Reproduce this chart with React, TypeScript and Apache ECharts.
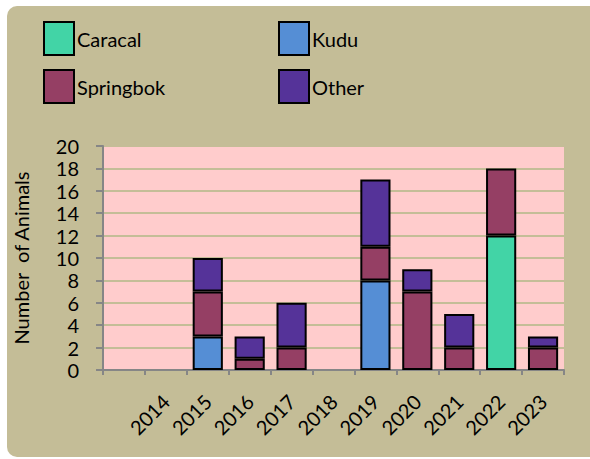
import React, { useEffect, useRef } from "react";
import * as echarts from "echarts";

const categories = ["", "2014", "2015", "2016", "2017", "2018", "2019", "2020", "2021", "2022", "2023"];
const caracal = [0, 0, 0, 0, 0, 0, 0, 0, 0, 12, 0];
const kudu = [0, 0, 3, 0, 0, 0, 8, 0, 0, 0, 0];
const springbok = [0, 0, 4, 1, 2, 0, 3, 7, 2, 6, 2];
const other = [0, 0, 3, 2, 4, 0, 6, 2, 3, 0, 1];
const seriesNames = ["Caracal", "Kudu", "Springbok", "Other"];
const seriesColors = ["#42D4A6", "#558ED5", "#953F64", "#553399"];

const FONT = "Lato, 'Open Sans', sans-serif";

export default function App() {
  const ref = useRef<HTMLDivElement>(null);
  useEffect(() => {
    if (!ref.current) return;
    const chart = echarts.init(ref.current, undefined, { renderer: "svg" });
    const values = [caracal, kudu, springbok, other];
    const legendPos = [
      { left: 43, top: 21 },
      { left: 278, top: 21 },
      { left: 43, top: 69 },
      { left: 278, top: 69 },
    ];
    chart.setOption({
      animation: false,
      textStyle: { fontFamily: FONT },
      graphic: [
        {
          type: "rect",
          z: -10,
          silent: true,
          shape: { x: 7, y: 6, width: 600, height: 451, r: 10 },
          style: { fill: "#C4BD97" },
        },
      ],
      legend: seriesNames.map((n, i) => ({
        data: [n],
        left: legendPos[i].left,
        top: legendPos[i].top,
        padding: 0,
        itemWidth: 30,
        itemHeight: 33,
        icon: "rect",
        selectedMode: false,
        textStyle: { fontSize: 20, color: "#000", fontFamily: FONT, padding: [3, 0, 0, -2] },
      })),
      grid: {
        left: 103,
        top: 146,
        width: 461,
        height: 224,
        show: true,
        backgroundColor: "#FFCCCC",
        borderWidth: 0,
        outerBoundsMode: "none",
      },
      xAxis: {
        type: "category",
        data: categories,
        axisLine: { lineStyle: { color: "#868686", width: 2 } },
        axisTick: { show: true, length: 5, lineStyle: { color: "#868686", width: 2 } },
        axisLabel: {
          rotate: 45,
          interval: 0,
          margin: 28,
          fontSize: 20,
          color: "#000",
          fontFamily: FONT,
        },
        splitLine: { show: false },
      },
      yAxis: {
        type: "value",
        min: 0,
        max: 20,
        interval: 2,
        name: "Number  of Animals",
        nameLocation: "middle",
        nameGap: 72,
        nameTextStyle: { fontSize: 20, color: "#000", fontFamily: FONT },
        axisLine: { show: true, lineStyle: { color: "#868686", width: 2 } },
        axisTick: { show: true, length: 7, lineStyle: { color: "#868686", width: 2 } },
        axisLabel: { fontSize: 20, color: "#000", margin: 24, fontFamily: FONT },
        splitLine: { show: true, lineStyle: { color: "#C4BD97", width: 2 } },
      },
      series: seriesNames.map((n, i) => ({
        name: n,
        type: "bar",
        stack: "total",
        data: values[i].map((v) => (v === 0 ? null : v)),
        barWidth: "72%",
        itemStyle: { color: seriesColors[i], borderColor: "#000", borderWidth: 2 },
      })),
    });
    return () => chart.dispose();
  }, []);
  return (
    <div
      ref={ref}
      style={{ position: "absolute", left: 0, top: 0, width: 590, height: 459 }}
    />
  );
}
